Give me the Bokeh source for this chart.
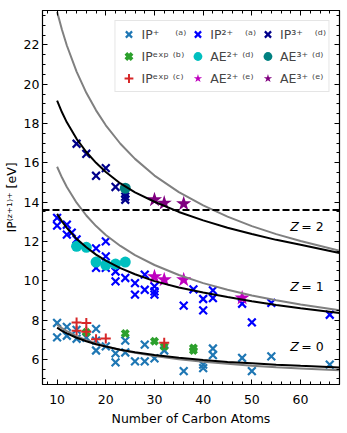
from bokeh.plotting import figure
from bokeh.models import (Span, Legend, LegendItem, LinearAxis, SingleIntervalTicker,
                          Range1d, ColumnDataSource)
from bokeh.embed import file_html
from bokeh.resources import INLINE
from bokeh.core.properties import value

FONT = "DejaVu Sans"

# ---------------- data ----------------
# IP+ (a)
ip1_n = [10, 10, 12, 12, 14, 14, 16, 18, 18, 18, 20, 22, 22, 24, 24, 26, 28, 28, 30, 32,
         36, 40, 40, 42, 42, 48, 50, 54, 66]
ip1_v = [7.85, 7.12, 7.65, 7.2, 7.5, 7.05, 7.1, 7.55, 6.95, 6.45, 6.66, 6.3, 5.85, 6.95, 6.35,
         5.9, 6.75, 5.9, 6.05, 6.45, 5.4, 5.73, 5.55, 6.55, 6.22, 6.07, 5.4, 6.15, 5.73]
# IP^exp (b)
ipb_n = [16, 24, 30, 32, 38, 38]
ipb_v = [7.38, 7.32, 6.92, 6.65, 6.58, 6.45]
# IP^exp (c)
ipc_n = [14, 14, 16, 16, 18, 20, 32]
ipc_v = [7.88, 7.45, 7.85, 7.4, 7.02, 7.06, 6.85]
# IP2+ (a)
ip2_n = [10, 10, 12, 12, 13, 14, 18, 20, 20, 18, 20, 22, 22, 24, 26, 26, 28, 28, 30, 30, 30,
         36, 38, 40, 40, 42, 42, 48, 50, 54, 66]
ip2_v = [13.2, 12.8, 12.85, 12.35, 12.45, 12.1, 11.65, 12.0, 11.24, 10.65, 10.65, 10.47, 9.97,
         10.14, 9.88, 9.29, 10.31, 9.54, 9.71, 9.46, 9.29, 8.73, 9.56, 9.07, 8.49, 9.51, 9.12,
         8.83, 7.88, 8.87, 8.27]
# AE2+ (d)
ae2d_n = [14, 16, 18, 20, 22, 24]
ae2d_v = [11.75, 11.7, 10.95, 10.8, 10.85, 10.95]
# AE2+ (e)
ae2e_n = [30, 32, 36, 48]
ae2e_v = [10.2, 10.05, 10.05, 9.12]
# IP3+ (d)
ip3_n = [14, 16, 18, 20, 22, 24, 24, 24]
ip3_v = [16.97, 16.46, 15.34, 15.73, 14.77, 14.45, 14.28, 14.12]
# AE3+ (d)
ae3d_n = [24]
ae3d_v = [14.71]
# AE3+ (e)
ae3e_n = [30, 32, 36]
ae3e_v = [14.12, 13.95, 13.92]

# model curves
curve_n = [10, 11, 12, 14, 16, 18, 20, 23, 26, 30, 35, 40, 45, 50, 55, 60, 68]
black_z2 = [19.16, 18.57, 18.06, 17.22, 16.55, 16.0, 15.53, 14.95, 14.5, 14.02, 13.5, 13.07,
            12.7, 12.38, 12.08, 11.83, 11.41]
black_z1 = [13.4, 13.02, 12.69, 12.13, 11.7, 11.33, 11.02, 10.64, 10.33, 9.98, 9.66, 9.4,
            9.17, 8.96, 8.77, 8.6, 8.36]
black_z0 = [7.61, 7.45, 7.32, 7.1, 6.92, 6.77, 6.65, 6.49, 6.36, 6.22, 6.08, 5.97, 5.87, 5.8,
            5.73, 5.67, 5.59]
gray_z2 = [23.69, 22.77, 21.97, 20.64, 19.56, 18.67, 17.91, 16.97, 16.2, 15.35, 14.51, 13.83,
           13.26, 12.78, 12.37, 12.02, 11.53]
gray_z1 = [15.8, 15.25, 14.77, 13.97, 13.32, 12.78, 12.33, 11.77, 11.3, 10.8, 10.29, 9.88,
           9.54, 9.25, 9.01, 8.79, 8.5]
gray_z0 = [7.76, 7.59, 7.44, 7.18, 6.98, 6.81, 6.66, 6.48, 6.33, 6.17, 6.01, 5.88, 5.77,
           5.68, 5.6, 5.54, 5.44]
hline_y = 13.6

z_text = ["2", "1", "0"]
z_x = [57.9, 57.9, 57.9]
z_y = [12.76, 9.71, 6.66]

x_ticks_step = 10
y_ticks_step = 2

# ---------------- figure ----------------
p = figure(frame_width=297, frame_height=374, output_backend="svg", toolbar_location=None,
           x_range=Range1d(7, 68), y_range=Range1d(4.72, 23.75),
           min_border_left=35, min_border_top=10, min_border_right=4, min_border_bottom=0)
p.xgrid.visible = False
p.ygrid.visible = False
p.outline_line_color = "black"
p.outline_line_width = 1.2
p.background_fill_color = "white"
p.border_fill_color = "white"

xt = SingleIntervalTicker(interval=x_ticks_step, num_minor_ticks=5)
yt = SingleIntervalTicker(interval=y_ticks_step, num_minor_ticks=4)
p.xaxis.ticker = xt
p.yaxis.ticker = yt
p.xaxis.axis_label = "Number of Carbon Atoms"
p.yaxis.axis_label = "IP⁽ᶻ⁺¹⁾⁺ [eV]"

def style_axis(ax):
    ax.major_tick_in = 5
    ax.major_tick_out = 0
    ax.minor_tick_in = 3
    ax.minor_tick_out = 0
    ax.major_tick_line_color = "black"
    ax.minor_tick_line_color = "black"
    ax.axis_line_color = "black"
    ax.major_label_text_font = FONT
    ax.major_label_text_font_size = "12.5px"
    ax.major_label_text_color = "black"
    ax.axis_label_text_font = FONT
    ax.axis_label_text_font_size = "12.5px"
    ax.axis_label_text_font_style = "normal"
    ax.axis_label_text_color = "black"

for ax in p.xaxis + p.yaxis:
    style_axis(ax)
p.xaxis.major_label_standoff = 10
p.xaxis.axis_label_standoff = 4
p.yaxis.major_label_standoff = 3
p.yaxis.axis_label_standoff = 2

ax_r = LinearAxis(ticker=yt)
ax_t = LinearAxis(ticker=xt)
for ax in (ax_r, ax_t):
    style_axis(ax)
    ax.major_label_text_font_size = "1px"
    ax.major_label_text_color = None
    ax.major_label_standoff = 0
p.add_layout(ax_r, "right")
p.add_layout(ax_t, "above")

# ---------------- markers ----------------
r_ip1 = p.scatter(ip1_n, ip1_v, marker="x", size=11, line_width=2.2, line_color="#1f77b4")
r_ipb = p.scatter(ipb_n, ipb_v, marker="x", size=9, line_width=3.8, line_color="#2ca02c")
r_ipc = p.scatter(ipc_n, ipc_v, marker="cross", size=10, line_width=2, line_color="#d62728")
r_ip2 = p.scatter(ip2_n, ip2_v, marker="x", size=11, line_width=2.2, line_color="#0000ff")
r_ae2d = p.scatter(ae2d_n, ae2d_v, marker="circle", size=11, line_color=None, fill_color="#00bfbf")
r_ae2e = p.scatter(ae2e_n, ae2e_v, marker="star", size=16, line_color=None, fill_color="#bf00bf")
r_ip3 = p.scatter(ip3_n, ip3_v, marker="x", size=11, line_width=2.2, line_color="#00008b")
r_ae3d = p.scatter(ae3d_n, ae3d_v, marker="circle", size=11, line_color=None, fill_color="#008080")
r_ae3e = p.scatter(ae3e_n, ae3e_v, marker="star", size=16, line_color=None, fill_color="#800080")

# ---------------- curves ----------------
for ys in (gray_z2, gray_z1, gray_z0):
    p.line(curve_n, ys, line_color="#808080", line_width=2)
for ys in (black_z2, black_z1, black_z0):
    p.line(curve_n, ys, line_color="black", line_width=2)
p.add_layout(Span(location=hline_y, dimension="width", line_color="black",
                  line_width=2, line_dash="7 3"))

# Z labels
src = ColumnDataSource(dict(x=z_x, y=z_y, t=["= " + t for t in z_text]))
p.text(x="x", y="y", text=value("Z"), source=src, text_font=value(FONT),
       text_font_size="12.5px", text_font_style="italic", text_baseline="middle",
       text_align="left", text_color="black")
p.text(x="x", y="y", text="t", source=src, text_font=value(FONT), x_offset=11,
       text_font_size="12.5px", text_baseline="middle", text_align="left", text_color="black")

# ---------------- legend ----------------
items = [
    LegendItem(label="IP⁺    ⁽ᵃ⁾", renderers=[r_ip1]),
    LegendItem(label="IPᵉˣᵖ ⁽ᵇ⁾", renderers=[r_ipb]),
    LegendItem(label="IPᵉˣᵖ ⁽ᶜ⁾", renderers=[r_ipc]),
    LegendItem(label="IP²⁺   ⁽ᵃ⁾", renderers=[r_ip2]),
    LegendItem(label="AE²⁺ ⁽ᵈ⁾", renderers=[r_ae2d]),
    LegendItem(label="AE²⁺ ⁽ᵉ⁾", renderers=[r_ae2e]),
    LegendItem(label="IP³⁺   ⁽ᵈ⁾", renderers=[r_ip3]),
    LegendItem(label="AE³⁺ ⁽ᵈ⁾", renderers=[r_ae3d]),
    LegendItem(label="AE³⁺ ⁽ᵉ⁾", renderers=[r_ae3e]),
]
legend = Legend(items=items, location="top_right", ncols=3, orientation="vertical",
                label_text_font=FONT, label_text_font_size="12.5px",
                glyph_width=22, glyph_height=22, label_standoff=2, spacing=-4,
                padding=2, margin=10, border_line_color="#cccccc",
                background_fill_alpha=0.85)
p.add_layout(legend)

open("out.html", "w").write(file_html(p, INLINE))
